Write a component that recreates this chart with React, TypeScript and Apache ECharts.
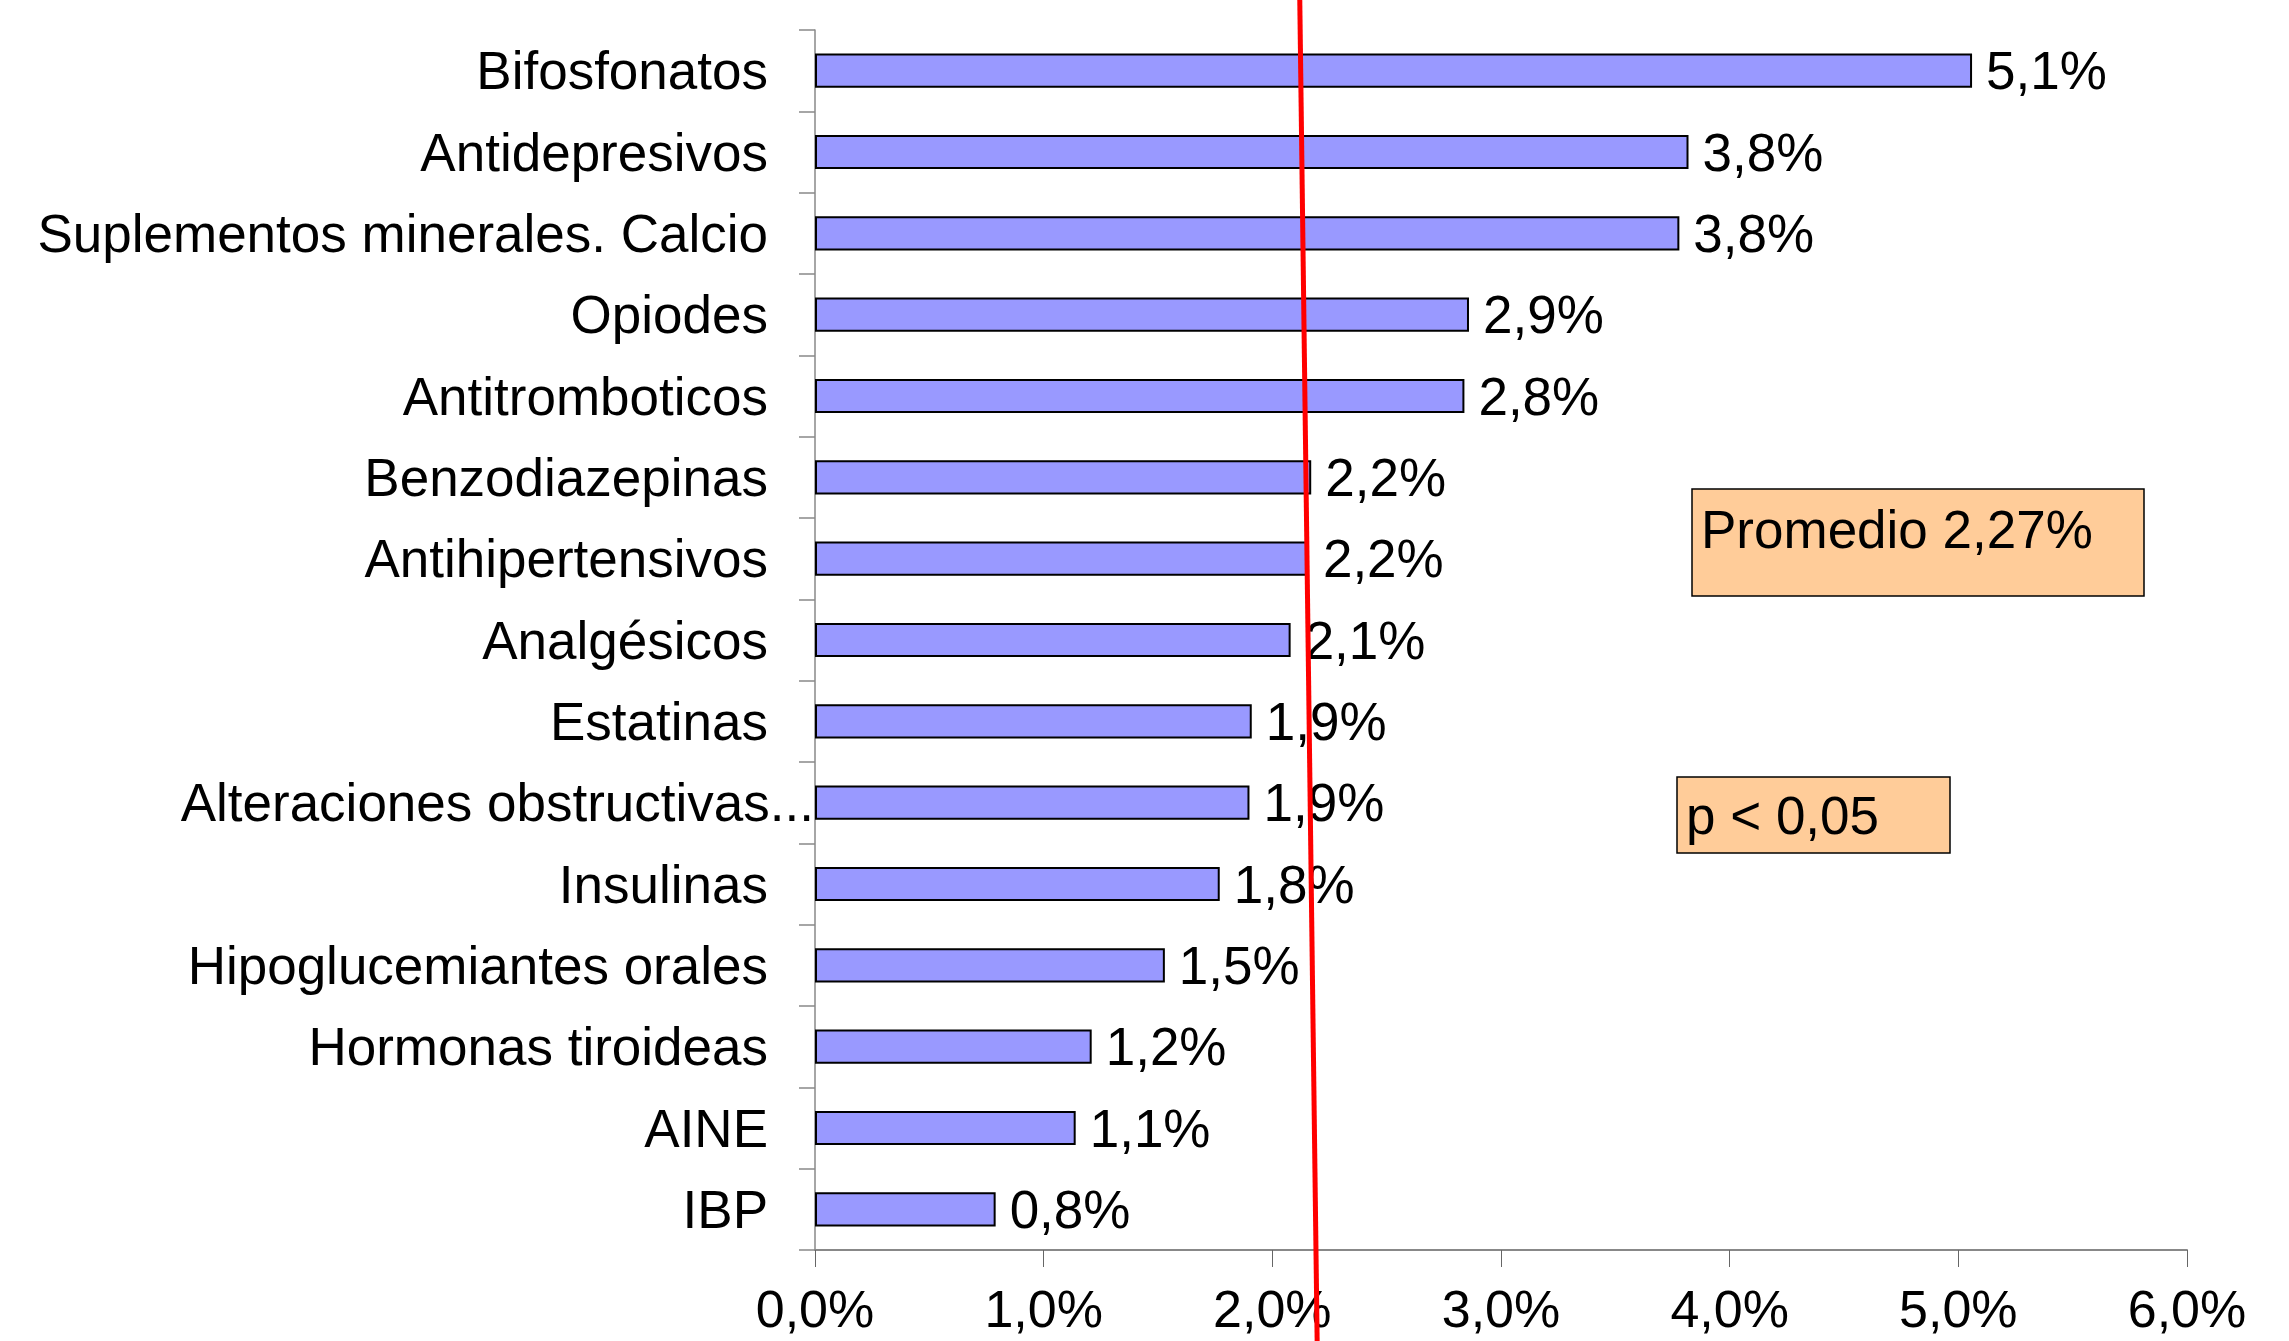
import React, { useEffect, useRef } from "react";
import * as echarts from "echarts";

const categories = [
  "Bifosfonatos",
  "Antidepresivos",
  "Suplementos minerales. Calcio",
  "Opiodes",
  "Antitromboticos",
  "Benzodiazepinas",
  "Antihipertensivos",
  "Analgésicos",
  "Estatinas",
  "Alteraciones obstructivas...",
  "Insulinas",
  "Hipoglucemiantes orales",
  "Hormonas tiroideas",
  "AINE",
  "IBP",
];
const values = [5.06, 3.82, 3.78, 2.86, 2.84, 2.17, 2.16, 2.08, 1.91, 1.9, 1.77, 1.53, 1.21, 1.14, 0.79];
const xMin = 0;
const xMax = 6;
const xInterval = 1;
const averageText = "Promedio 2,27%";
const pValueText = "p < 0,05";
// hand-drawn average line: value where it meets the top and the bottom of the picture
const averageLineTop = 2.12;
const averageLineBottom = 2.196;

const FONT = "'Liberation Sans', Arial, sans-serif";
const FS = 53;
const fmt = (v: number) => v.toFixed(1).replace(".", ",") + "%";

export default function App() {
  const ref = useRef<HTMLDivElement>(null);
  useEffect(() => {
    if (!ref.current) return;
    const chart = echarts.init(ref.current, null, { renderer: "svg" });
    const H = 1341;
    chart.setOption({
      animation: false,
      backgroundColor: "#ffffff",
      textStyle: { fontFamily: FONT },
      grid: { left: 815, right: 102, top: 30, bottom: 91, containLabel: false },
      xAxis: {
        type: "value",
        min: xMin,
        max: xMax,
        interval: xInterval,
        splitLine: { show: false },
        axisLine: { show: true, lineStyle: { color: "#888888", width: 2 } },
        axisTick: { show: true, length: 17, lineStyle: { color: "#666666", width: 1 } },
        axisLabel: {
          color: "#000",
          fontSize: 52,
          fontFamily: FONT,
          lineHeight: 44,
          margin: 37,
          formatter: (v: number) => fmt(v),
        },
      },
      yAxis: {
        type: "category",
        inverse: true,
        data: categories,
        axisLine: { show: true, lineStyle: { color: "#888888", width: 1.5 } },
        axisTick: { show: true, length: 16, lineStyle: { color: "#888888", width: 1.5 } },
        axisLabel: {
          color: "#000",
          fontSize: FS,
          fontFamily: FONT,
          margin: 47,
          formatter: (v: string) => (v.endsWith("...") ? `{long|${v}}` : v),
          rich: {
            long: {
              color: "#000",
              fontSize: FS,
              fontFamily: FONT,
              padding: [0, -46, 0, 0],
            },
          },
        },
      },
      series: [
        {
          type: "bar",
          data: values,
          barWidth: "42%",
          z: 5,
          itemStyle: { color: "#9999FF", borderColor: "#000000", borderWidth: 2 },
          label: {
            show: true,
            position: "right",
            distance: 14,
            color: "#000",
            fontSize: FS,
            fontFamily: FONT,
            formatter: (p: any) => fmt(p.value),
          },
        },
      ],
    });
    const xTop = chart.convertToPixel({ xAxisIndex: 0 }, averageLineTop) as number;
    const xBottom = chart.convertToPixel({ xAxisIndex: 0 }, averageLineBottom) as number;
    chart.setOption({
      graphic: [
        {
          type: "line",
          shape: { x1: xTop, y1: 0, x2: xBottom, y2: H },
          style: { stroke: "#FF0000", lineWidth: 5 },
          z: 100,
        },
        {
          type: "rect",
          shape: { x: 1692, y: 489, width: 452, height: 107 },
          style: { fill: "#FFCC99", stroke: "#000000", lineWidth: 1.5 },
          z: 90,
        },
        {
          type: "text",
          x: 1701,
          y: 529,
          style: {
            text: averageText,
            fill: "#000",
            font: `${FS}px ${FONT}`,
            verticalAlign: "middle",
            align: "left",
          },
          z: 91,
        },
        {
          type: "rect",
          shape: { x: 1677, y: 777, width: 273, height: 76 },
          style: { fill: "#FFCC99", stroke: "#000000", lineWidth: 1.5 },
          z: 90,
        },
        {
          type: "text",
          x: 1686,
          y: 815,
          style: {
            text: pValueText,
            fill: "#000",
            font: `${FS}px ${FONT}`,
            verticalAlign: "middle",
            align: "left",
          },
          z: 91,
        },
      ],
    });
    return () => chart.dispose();
  }, []);
  return (
    <div
      ref={ref}
      style={{ position: "fixed", left: 0, top: 0, width: 2289, height: 1341, background: "#fff" }}
    />
  );
}
